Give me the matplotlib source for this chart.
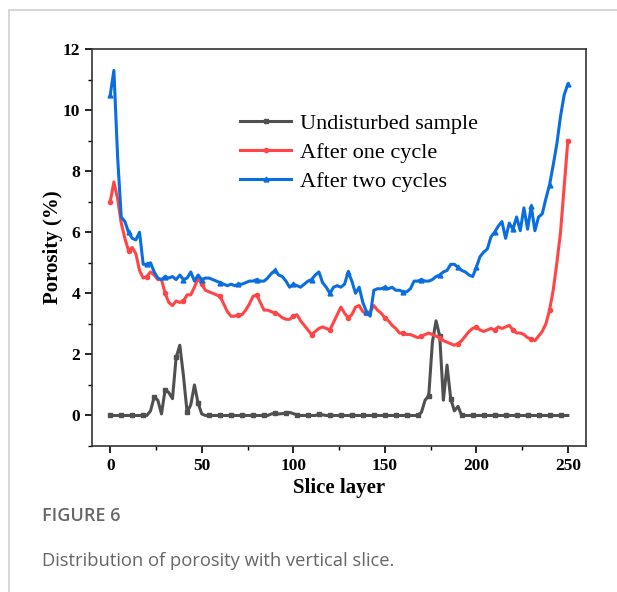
import numpy as np
import matplotlib
matplotlib.use('Agg')
import matplotlib.pyplot as plt
from matplotlib.lines import Line2D

# Slice layers 0..250, read every second layer
slices = np.arange(0, 251, 2)

undisturbed = [
    0, 0, 0, 0, 0, 0, 0, 0, 0, 0,
    0, 0.15, 0.6, 0.5, 0.05, 0.85, 0.75, 0.55, 1.9, 2.3,
    1.3, 0.1, 0.35, 1.0, 0.4, 0.05, 0, 0, 0, 0,
    0, 0, 0, 0, 0, 0, 0, 0, 0, 0,
    0, 0, 0, 0, 0.05, 0.07, 0.05, 0.06, 0.08, 0.1,
    0.06, 0.02, 0, 0, 0, 0, 0, 0.04, 0.02, 0,
    0, 0, 0, 0, 0, 0, 0, 0, 0, 0,
    0, 0, 0, 0, 0, 0, 0, 0, 0, 0,
    0, 0, 0, 0, 0, 0.1, 0.5, 0.65, 2.4, 3.1,
    2.6, 0.5, 1.65, 0.55, 0.15, 0.3, 0, 0, 0, 0,
    0, 0, 0, 0, 0, 0, 0, 0, 0, 0,
    0, 0, 0, 0, 0, 0, 0, 0, 0, 0,
    0, 0, 0, 0, 0, 0,
]

one_cycle = [
    7.0, 7.65, 7.1, 6.3, 5.8, 5.4, 5.5, 5.3, 4.75, 4.5,
    4.55, 4.7, 4.6, 4.45, 4.45, 4.0, 3.7, 3.6, 3.75, 3.7,
    3.75, 3.95, 3.95, 4.2, 4.5, 4.3, 4.1, 4.05, 4.0, 3.95,
    3.9, 3.65, 3.4, 3.25, 3.25, 3.3, 3.3, 3.45, 3.65, 3.9,
    3.95, 3.7, 3.45, 3.45, 3.4, 3.35, 3.3, 3.2, 3.15, 3.15,
    3.25, 3.3, 3.1, 2.95, 2.8, 2.65, 2.75, 2.85, 2.9, 2.85,
    2.8, 3.05, 3.3, 3.55, 3.35, 3.2, 3.3, 3.55, 3.6, 3.4,
    3.35, 3.4, 3.6, 3.45, 3.35, 3.2, 3.1, 2.95, 2.85, 2.7,
    2.7, 2.65, 2.65, 2.6, 2.55, 2.6, 2.65, 2.7, 2.65, 2.6,
    2.55, 2.45, 2.4, 2.35, 2.3, 2.35, 2.45, 2.6, 2.75, 2.85,
    2.9, 2.8, 2.75, 2.8, 2.85, 2.8, 2.9, 2.85, 2.9, 2.95,
    2.8, 2.7, 2.7, 2.65, 2.55, 2.5, 2.45, 2.6, 2.75, 3.0,
    3.45, 4.1, 5.0, 6.0, 7.5, 9.0,
]

two_cycles = [
    10.5, 11.3, 8.5, 6.5, 6.35, 6.0, 5.8, 5.75, 6.0, 4.95,
    4.95, 5.0, 4.7, 4.5, 4.45, 4.55, 4.5, 4.55, 4.45, 4.6,
    4.45, 4.5, 4.7, 4.4, 4.6, 4.45, 4.5, 4.5, 4.45, 4.4,
    4.35, 4.3, 4.25, 4.3, 4.25, 4.3, 4.3, 4.35, 4.4, 4.4,
    4.45, 4.4, 4.4, 4.5, 4.65, 4.75, 4.6, 4.55, 4.4, 4.2,
    4.3, 4.25, 4.2, 4.3, 4.4, 4.45, 4.6, 4.7, 4.35, 4.2,
    4.0, 4.2, 4.25, 4.2, 4.3, 4.7, 4.4, 4.0, 4.2, 3.7,
    3.4, 3.25, 4.1, 4.15, 4.15, 4.2, 4.15, 4.2, 4.1, 4.1,
    4.05, 4.05, 4.15, 4.4, 4.4, 4.45, 4.4, 4.4, 4.45, 4.55,
    4.6, 4.7, 4.75, 4.95, 4.95, 4.85, 4.75, 4.7, 4.6, 4.55,
    4.85, 5.2, 5.35, 5.45, 5.85, 6.0, 6.2, 6.35, 5.8, 6.3,
    6.1, 6.5, 6.05, 6.8, 6.1, 6.85, 6.05, 6.5, 6.6, 7.1,
    7.55, 8.2, 8.9, 9.8, 10.5, 10.85,
]

labels = ['Undisturbed sample', 'After one cycle', 'After two cycles']

serif = ['Liberation Serif', 'DejaVu Serif']

fig = plt.figure(figsize=(6.17, 5.92), dpi=100)
ax = fig.add_axes([0.149, 0.2466, 0.801, 0.6706])

ax.plot(slices, undisturbed, color='#505050', lw=2.2, marker='s', ms=3.5,
        markevery=3, label=labels[0])
ax.plot(slices, one_cycle, color='#ff4545', lw=2.2, marker='o', ms=3.0,
        markevery=5, label=labels[1])
ax.plot(slices, two_cycles, color='#0a6ee0', lw=2.2, marker='^', ms=3.5,
        markevery=5, label=labels[2])

ax.set_xlim(-10, 260)
ax.set_ylim(-1, 12)
ax.set_xticks([0, 50, 100, 150, 200, 250])
ax.set_xticks(np.arange(25, 260, 50), minor=True)
ax.set_yticks([0, 2, 4, 6, 8, 10, 12])
ax.set_yticks(np.arange(-1, 12, 2), minor=True)
ax.tick_params(which='major', direction='out', length=5, width=1.2)
ax.tick_params(which='minor', direction='out', length=3, width=1.0)
for lab in ax.get_xticklabels() + ax.get_yticklabels():
    lab.set_family(serif)
    lab.set_fontweight('bold')
    lab.set_fontsize(12.5)
for sp in ax.spines.values():
    sp.set_linewidth(1.2)
    sp.set_color('#333333')

ax.set_xlabel('Slice layer', family=serif, fontweight='bold', fontsize=15, labelpad=3)
ax.set_ylabel('Porosity (%)', family=serif, fontweight='bold', fontsize=15, labelpad=0)

ax.legend(loc='center left', bbox_to_anchor=(0.30, 0.74), frameon=False,
          borderpad=0, borderaxespad=0, handlelength=2.3, handletextpad=0.4,
          labelspacing=0.38, prop={'family': serif, 'size': 16})

# caption
fig.text(0.068, 0.128, 'FIGURE 6', family='Open Sans', fontweight='semibold',
         fontsize=13, color='#666666', va='center')
fig.text(0.068, 0.053, 'Distribution of porosity with vertical slice.',
         family='Open Sans', fontsize=13.2, color='#666666', va='center')

# page frame
fig.add_artist(Line2D([0.0138, 1.0], [0.983, 0.983], color='#d0d0d0', lw=1.2))
fig.add_artist(Line2D([0.0138, 0.0138], [0.0, 0.983], color='#d0d0d0', lw=1.2))

fig.savefig('out.png', dpi=100)
